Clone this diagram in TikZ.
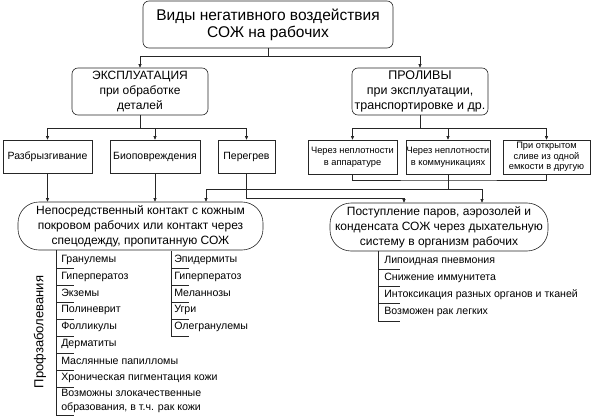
\documentclass[tikz,border=0pt]{standalone}
\usepackage{fontspec}
\setmainfont{Liberation Sans}
\usetikzlibrary{arrows.meta,calc}
\newcommand{\fsz}[2]{\fontsize{#1}{#2}\selectfont}
\begin{document}
\begin{tikzpicture}[x=1pt,y=-1pt,line width=0.6pt,draw=black!85,
  rbox/.style={draw, rounded corners=6pt, inner sep=0pt, align=center},
  sbox/.style={draw, inner sep=0pt, align=center},
  oval/.style={draw, rounded corners=21pt, inner sep=0pt, align=center},
  arr/.style={-{Triangle[length=3.5pt,width=3pt]}},
  item/.style={anchor=west, inner sep=0pt, align=left, font=\fsz{10.6}{14}}]
\useasboundingbox (0,0) rectangle (599,417);
% top
\node[rbox, minimum width=250pt, minimum height=47pt, font=\fsz{15.5}{17}] (top) at (268,24.5) {Виды негативного воздействия\\СОЖ на рабочих};
\node[rbox, minimum width=136pt, minimum height=47pt, font=\fsz{12}{15}] (expl) at (140,91.5) {ЭКСПЛУАТАЦИЯ\\при обработке\\деталей};
\node[rbox, minimum width=136pt, minimum height=47pt, font=\fsz{12.5}{15}] (prol) at (420,91.5) {ПРОЛИВЫ\\при эксплуатации,\\транспортировке и др.};
% row boxes
\node[sbox, minimum width=89pt, minimum height=33pt, font=\fsz{10.5}{12}] (razb) at (47.5,156.5) {Разбрызгивание};
\node[sbox, minimum width=90pt, minimum height=33pt, font=\fsz{10.5}{12}] (bio) at (155,156.5) {Биоповреждения};
\node[sbox, minimum width=57pt, minimum height=33pt, font=\fsz{10.5}{12}] (pereg) at (246.5,156.5) {Перегрев};
\node[sbox, minimum width=89pt, minimum height=34pt, font=\fsz{9.3}{12}] (pa) at (352.5,157) {Через неплотности\\в аппаратуре};
\node[sbox, minimum width=84pt, minimum height=34pt, font=\fsz{9.3}{12}] (pb) at (448,157) {Через неплотности\\в коммуникациях};
\node[sbox, minimum width=87pt, minimum height=34pt, font=\fsz{9.3}{10.5}] (pc) at (546.5,157) {При открытом\\сливе из одной\\емкости в другую};
% ovals
\node[oval, minimum width=245pt, minimum height=48pt, font=\fsz{12}{15}] (left) at (140.5,226) {Непосредственный контакт с кожным\\покровом рабочих или контакт через\\спецодежду, пропитанную СОЖ};
\node[oval, minimum width=218pt, minimum height=48pt, font=\fsz{12}{15}] (right) at (439,227) {Поступление паров, аэрозолей и\\конденсата СОЖ через дыхательную\\систему в организм рабочих};
% connectors top
\coordinate (j1) at (268,56);
\draw (top.south) -- (j1);
\draw[arr] (j1) -| (expl.north);
\draw[arr] (j1) -| (prol.north);
\coordinate (j2) at (140,128);
\draw (expl.south) -- (j2);
\draw[arr] (j2) -| (razb.north);
\draw[arr] (j2) -| (bio.north);
\draw[arr] (j2) -| (pereg.north);
\coordinate (j3) at (420,128);
\draw (prol.south) -- (j3);
\draw[arr] (j3) -| (pa.north);
\draw[arr] (j3) -| (pb.north);
\draw[arr] (j3) -| (pc.north);
% to ovals
\draw[arr] (razb.south) -- (razb.south |- left.north);
\draw[arr] (bio.south) -- (bio.south |- left.north);
\coordinate (j4) at (404,198);
\draw (pereg.south) |- (j4);
\draw[arr] (j4) -- (j4 |- right.north);
\coordinate (j5) at (448,180);
\draw (pa.south) |- (j5) -| (pc.south);
\coordinate (j6) at (448,189);
\draw (pb.south) -- (j6);
\coordinate (j7) at (206,189);
\coordinate (j8) at (482,189);
\draw (j7) -- (j8);
\draw[arr] (j7) -- (j7 |- left.north);
\draw[arr] (j8) -- (j8 |- right.north);
% left list
\draw (56,250) -- (56,415);
\foreach \yy in {268,285,302,319,336,353,370,387,415} \draw (56,\yy) -- (74,\yy);
\node[item] (l1) at (61,260) {Гранулемы};
\node[item] (l2) at (61,276.5) {Гиперператоз};
\node[item] (l3) at (61,293) {Экземы};
\node[item] (l4) at (61,310) {Полиневрит};
\node[item] (l5) at (61,327) {Фолликулы};
\node[item] (l6) at (61,344) {Дерматиты};
\node[item] (l7) at (61,361) {Маслянные папилломы};
\node[item] (l8) at (61,378) {Хроническая пигментация кожи};
\node[item] (l9) at (61,401) {Возможны злокачественные\\образования, в т.ч. рак кожи};
% middle list
\draw (171,251) -- (171,336);
\foreach \yy in {268,285,302,319,336} \draw (171,\yy) -- (189,\yy);
\node[item] (m1) at (174,260) {Эпидермиты};
\node[item] (m2) at (174,276.5) {Гиперператоз};
\node[item] (m3) at (174,293) {Меланнозы};
\node[item] (m4) at (174,310) {Угри};
\node[item] (m5) at (174,327) {Олегранулемы};
% right list
\draw (378,251) -- (378,321);
\foreach \yy in {269,286,303,321} \draw (378,\yy) -- (400,\yy);
\node[item] (r1) at (384,261) {Липоидная пневмония};
\node[item] (r2) at (384,278) {Снижение иммунитета};
\node[item] (r3) at (384,295) {Интоксикация разных органов и тканей};
\node[item] (r4) at (384,312) {Возможен рак легких};
% vertical label
\node[rotate=90, inner sep=0pt, font=\fsz{13}{15}] (prof) at (40,332) {Профзаболевания};
\end{tikzpicture}
\end{document}
